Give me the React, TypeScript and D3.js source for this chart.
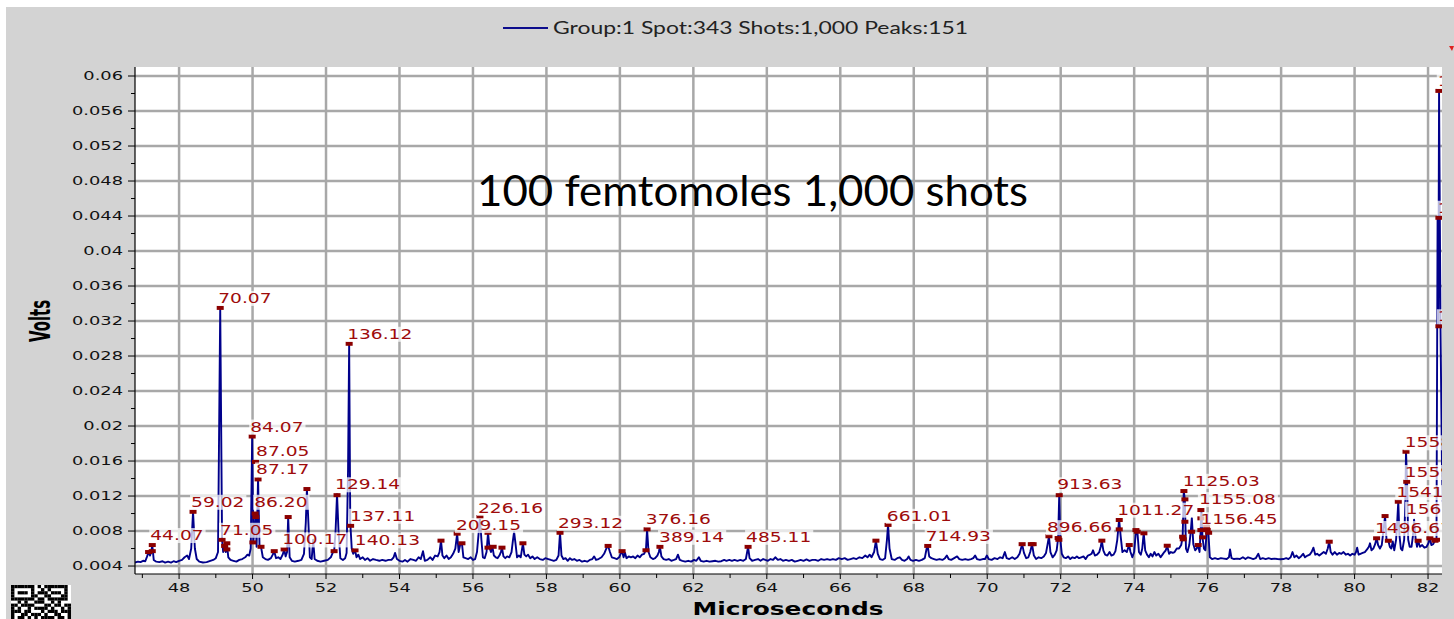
import React from "react";
import * as d3 from "d3";

const W = 1454;
const H = 619;

const legendText = "Group:1 Spot:343 Shots:1,000 Peaks:151";
const titleText = "100 femtomoles 1,000 shots";
const yAxisTitle = "Volts";
const xAxisTitle = "Microseconds";

const xTickValues = [48, 50, 52, 54, 56, 58, 60, 62, 64, 66, 68, 70, 72, 74, 76, 78, 80, 82];
const xMinorTicks = [47, 49, 51, 53, 55, 57, 59, 61, 63, 65, 67, 69, 71, 73, 75, 77, 79, 81];
const yTickValues = [0.004, 0.008, 0.012, 0.016, 0.02, 0.024, 0.028, 0.032, 0.036, 0.04, 0.044, 0.048, 0.052, 0.056, 0.06];
const yTickLabels = ["0.004", "0.008", "0.012", "0.016", "0.02", "0.024", "0.028", "0.032", "0.036", "0.04", "0.044", "0.048", "0.052", "0.056", "0.06"];
const yMinorTicks = [0.006, 0.01, 0.014, 0.018, 0.022, 0.026, 0.03, 0.034, 0.038, 0.042, 0.046, 0.05, 0.054, 0.058];

// spectrum: [microseconds, volts]
const spectrum: [number, number][] = [
  [46.80, .00440], [46.88, .00450], [46.95, .00445], [47.02, .00460], [47.08, .00455], [47.13, .00510], [47.17, .00560], [47.21, .00520], [47.24, .00560], [47.27, .00640], [47.31, .00470], [47.38, .00450], [47.46, .00445], [47.55, .00455], [47.62, .00440], [47.70, .00450], [47.78, .00440], [47.85, .00455], [47.92, .00445], [48.00, .00460], [48.08, .00470], [48.15, .00500], [48.22, .00520], [48.27, .00480], [48.33, .00600], [48.38, .01020], [48.43, .00600], [48.48, .00480], [48.55, .00450], [48.65, .00440], [48.75, .00445], [48.85, .00460], [48.93, .00470], [49.00, .00490], [49.06, .00560], [49.12, .03350], [49.17, .00700], [49.20, .00560], [49.24, .00630], [49.27, .00560], [49.30, .00660], [49.34, .00500], [49.40, .00470], [49.48, .00460], [49.56, .00450], [49.64, .00470], [49.72, .00480], [49.80, .00500], [49.86, .00530], [49.91, .00520], [49.95, .00600], [49.99, .01880], [50.02, .00670], [50.05, .00800], [50.08, .01000], [50.11, .00620], [50.15, .01400], [50.19, .00620], [50.23, .00620], [50.28, .00500], [50.35, .00480], [50.42, .00470], [50.50, .00490], [50.55, .00530], [50.59, .00570], [50.64, .00490], [50.70, .00500], [50.76, .00480], [50.82, .00530], [50.86, .00590], [50.90, .00510], [50.94, .00560], [50.97, .00960], [51.01, .00500], [51.07, .00460], [51.15, .00450], [51.25, .00460], [51.33, .00470], [51.40, .00540], [51.45, .00900], [51.48, .01280], [51.52, .00900], [51.56, .00500], [51.61, .00480], [51.65, .00700], [51.69, .00480], [51.76, .00460], [51.85, .00450], [51.95, .00460], [52.05, .00470], [52.13, .00500], [52.19, .00560], [52.22, .00560], [52.26, .00800], [52.30, .01220], [52.34, .00800], [52.39, .00490], [52.46, .00470], [52.52, .00490], [52.56, .00550], [52.60, .01500], [52.63, .02940], [52.66, .00900], [52.70, .00600], [52.74, .00540], [52.79, .00580], [52.83, .00500], [52.88, .00530], [52.93, .00480], [53.00, .00500], [53.06, .00470], [53.13, .00490], [53.20, .00460], [53.28, .00480], [53.36, .00470], [53.45, .00460], [53.53, .00470], [53.62, .00460], [53.70, .00470], [53.78, .00470], [53.84, .00500], [53.88, .00550], [53.93, .00480], [54.00, .00460], [54.08, .00450], [54.15, .00470], [54.22, .00450], [54.30, .00480], [54.38, .00470], [54.45, .00460], [54.52, .00500], [54.58, .00480], [54.64, .00570], [54.69, .00460], [54.76, .00470], [54.84, .00500], [54.90, .00470], [54.97, .00520], [55.04, .00510], [55.09, .00560], [55.13, .00690], [55.17, .00520], [55.22, .00490], [55.28, .00520], [55.34, .00480], [55.40, .00500], [55.46, .00540], [55.52, .00600], [55.57, .00770], [55.61, .00560], [55.65, .00640], [55.70, .00660], [55.74, .00500], [55.80, .00490], [55.87, .00480], [55.94, .00500], [56.00, .00470], [56.06, .00480], [56.11, .00560], [56.16, .00800], [56.19, .00960], [56.23, .00700], [56.27, .00500], [56.32, .00490], [56.37, .00560], [56.41, .00780], [56.45, .00610], [56.49, .00560], [56.53, .00620], [56.57, .00520], [56.62, .00500], [56.67, .00490], [56.72, .00520], [56.76, .00560], [56.79, .00610], [56.83, .00510], [56.88, .00490], [56.93, .00510], [56.99, .00500], [57.05, .00560], [57.09, .00700], [57.12, .00790], [57.16, .00650], [57.20, .00500], [57.25, .00520], [57.30, .00500], [57.36, .00660], [57.40, .00530], [57.45, .00510], [57.50, .00530], [57.56, .00490], [57.62, .00510], [57.68, .00480], [57.75, .00500], [57.82, .00480], [57.90, .00470], [57.97, .00490], [58.05, .00480], [58.12, .00470], [58.20, .00460], [58.27, .00470], [58.33, .00520], [58.37, .00780], [58.41, .00520], [58.46, .00480], [58.52, .00490], [58.58, .00460], [58.64, .00490], [58.70, .00470], [58.76, .00480], [58.83, .00460], [58.90, .00470], [58.97, .00450], [59.04, .00460], [59.11, .00450], [59.18, .00470], [59.25, .00480], [59.30, .00510], [59.35, .00470], [59.42, .00480], [59.50, .00500], [59.57, .00540], [59.63, .00600], [59.68, .00630], [59.73, .00560], [59.78, .00500], [59.85, .00490], [59.92, .00480], [59.98, .00500], [60.02, .00540], [60.06, .00570], [60.10, .00500], [60.14, .00550], [60.18, .00490], [60.24, .00510], [60.30, .00500], [60.36, .00510], [60.42, .00490], [60.48, .00520], [60.54, .00500], [60.60, .00530], [60.66, .00540], [60.71, .00590], [60.74, .00820], [60.78, .00560], [60.83, .00500], [60.90, .00480], [60.96, .00490], [61.02, .00520], [61.06, .00560], [61.09, .00620], [61.13, .00510], [61.19, .00480], [61.26, .00470], [61.33, .00480], [61.40, .00460], [61.47, .00470], [61.53, .00480], [61.58, .00530], [61.63, .00470], [61.70, .00460], [61.78, .00450], [61.86, .00460], [61.94, .00450], [62.02, .00470], [62.08, .00460], [62.15, .00500], [62.20, .00460], [62.28, .00450], [62.36, .00460], [62.44, .00450], [62.52, .00455], [62.60, .00460], [62.68, .00450], [62.76, .00455], [62.84, .00470], [62.90, .00460], [62.98, .00470], [63.05, .00460], [63.12, .00470], [63.20, .00460], [63.28, .00470], [63.36, .00460], [63.43, .00480], [63.49, .00620], [63.53, .00490], [63.60, .00460], [63.68, .00470], [63.76, .00480], [63.83, .00460], [63.90, .00480], [63.96, .00470], [64.03, .00460], [64.10, .00480], [64.17, .00470], [64.23, .00500], [64.30, .00470], [64.37, .00480], [64.44, .00460], [64.52, .00470], [64.60, .00460], [64.68, .00470], [64.76, .00450], [64.84, .00460], [64.92, .00470], [65.00, .00460], [65.08, .00475], [65.16, .00460], [65.24, .00470], [65.32, .00470], [65.40, .00460], [65.48, .00480], [65.56, .00470], [65.64, .00480], [65.72, .00470], [65.80, .00480], [65.88, .00470], [65.96, .00490], [66.04, .00480], [66.12, .00490], [66.20, .00470], [66.28, .00480], [66.36, .00490], [66.44, .00480], [66.52, .00500], [66.60, .00490], [66.68, .00520], [66.74, .00500], [66.80, .00530], [66.85, .00500], [66.92, .00560], [66.97, .00690], [67.02, .00540], [67.08, .00480], [67.15, .00470], [67.22, .00490], [67.27, .00700], [67.30, .00870], [67.34, .00600], [67.40, .00480], [67.48, .00470], [67.55, .00490], [67.62, .00500], [67.68, .00470], [67.75, .00460], [67.82, .00480], [67.86, .00510], [67.91, .00470], [67.98, .00460], [68.06, .00470], [68.14, .00460], [68.22, .00470], [68.30, .00490], [68.35, .00600], [68.38, .00630], [68.42, .00510], [68.48, .00490], [68.55, .00480], [68.62, .00470], [68.70, .00480], [68.78, .00470], [68.85, .00490], [68.90, .00520], [68.95, .00480], [69.02, .00470], [69.10, .00490], [69.18, .00510], [69.24, .00480], [69.32, .00470], [69.40, .00480], [69.48, .00470], [69.56, .00480], [69.62, .00490], [69.67, .00520], [69.72, .00480], [69.80, .00470], [69.88, .00480], [69.94, .00480], [69.99, .00520], [70.04, .00480], [70.12, .00470], [70.20, .00490], [70.28, .00480], [70.35, .00500], [70.42, .00490], [70.48, .00560], [70.53, .00490], [70.60, .00480], [70.68, .00500], [70.75, .00480], [70.82, .00500], [70.88, .00540], [70.95, .00650], [71.00, .00550], [71.06, .00490], [71.12, .00500], [71.17, .00560], [71.22, .00650], [71.27, .00520], [71.33, .00480], [71.40, .00500], [71.47, .00490], [71.54, .00510], [71.60, .00550], [71.64, .00640], [71.68, .00740], [71.72, .00560], [71.78, .00500], [71.84, .00530], [71.89, .00580], [71.93, .00720], [71.96, .01210], [71.99, .00700], [72.03, .00540], [72.08, .00500], [72.14, .00490], [72.20, .00510], [72.26, .00480], [72.32, .00500], [72.38, .00490], [72.44, .00510], [72.50, .00490], [72.56, .00500], [72.62, .00510], [72.68, .00480], [72.74, .00520], [72.80, .00530], [72.84, .00540], [72.88, .00580], [72.93, .00520], [72.99, .00530], [73.05, .00560], [73.09, .00620], [73.12, .00690], [73.16, .00580], [73.21, .00530], [73.27, .00520], [73.33, .00560], [73.38, .00520], [73.44, .00530], [73.49, .00570], [73.54, .00700], [73.59, .00930], [73.63, .00750], [73.68, .00560], [73.74, .00580], [73.80, .00560], [73.86, .00640], [73.90, .00560], [73.95, .00500], [74.00, .00560], [74.05, .00810], [74.09, .00780], [74.13, .00560], [74.18, .00530], [74.22, .00600], [74.26, .00780], [74.30, .00580], [74.35, .00530], [74.40, .00500], [74.45, .00540], [74.50, .00510], [74.55, .00560], [74.60, .00520], [74.66, .00540], [74.72, .00500], [74.77, .00530], [74.82, .00560], [74.86, .00580], [74.90, .00630], [74.95, .00540], [75.00, .00560], [75.05, .00550], [75.10, .00560], [75.16, .00600], [75.22, .00600], [75.28, .00640], [75.32, .00730], [75.35, .01260], [75.38, .01160], [75.41, .00600], [75.45, .00560], [75.50, .00640], [75.54, .00790], [75.57, .00950], [75.61, .00650], [75.66, .00580], [75.70, .00600], [75.74, .00640], [75.78, .00560], [75.81, .00800], [75.83, .01040], [75.86, .00728], [75.90, .00600], [75.94, .00580], [75.98, .00850], [76.02, .00780], [76.06, .00500], [76.12, .00480], [76.20, .00490], [76.28, .00480], [76.36, .00490], [76.44, .00485], [76.52, .00480], [76.58, .00500], [76.61, .00590], [76.65, .00490], [76.72, .00480], [76.80, .00485], [76.88, .00480], [76.96, .00500], [77.03, .00480], [77.10, .00500], [77.17, .00490], [77.24, .00480], [77.31, .00490], [77.38, .00540], [77.43, .00480], [77.50, .00490], [77.58, .00480], [77.66, .00490], [77.74, .00480], [77.82, .00485], [77.90, .00480], [77.98, .00478], [78.06, .00480], [78.14, .00490], [78.20, .00480], [78.26, .00500], [78.31, .00560], [78.36, .00500], [78.42, .00520], [78.48, .00490], [78.54, .00510], [78.60, .00540], [78.65, .00500], [78.72, .00520], [78.78, .00530], [78.83, .00560], [78.88, .00610], [78.93, .00530], [78.98, .00540], [79.04, .00520], [79.10, .00540], [79.16, .00560], [79.22, .00540], [79.27, .00600], [79.31, .00680], [79.35, .00560], [79.40, .00530], [79.46, .00560], [79.52, .00530], [79.58, .00550], [79.64, .00540], [79.70, .00560], [79.76, .00530], [79.82, .00540], [79.88, .00520], [79.94, .00540], [80.00, .00530], [80.04, .00560], [80.07, .00610], [80.11, .00530], [80.16, .00540], [80.22, .00550], [80.28, .00560], [80.34, .00590], [80.39, .00620], [80.42, .00660], [80.46, .00580], [80.51, .00600], [80.56, .00650], [80.60, .00720], [80.64, .00640], [80.69, .00600], [80.74, .00640], [80.79, .00820], [80.83, .00970], [80.87, .00700], [80.92, .00690], [80.96, .00620], [81.00, .00600], [81.04, .00680], [81.08, .00580], [81.13, .00700], [81.16, .00900], [81.19, .01140], [81.22, .00760], [81.26, .00600], [81.30, .00580], [81.35, .00700], [81.38, .01100], [81.40, .01710], [81.43, .01360], [81.46, .00700], [81.50, .00620], [81.55, .00620], [81.59, .00750], [81.62, .00930], [81.66, .00720], [81.70, .00620], [81.73, .00690], [81.78, .00620], [81.84, .00640], [81.90, .00610], [81.96, .00620], [82.01, .00660], [82.05, .00720], [82.09, .00640], [82.14, .00650], [82.19, .00690], [82.23, .00700], [82.26, .04380], [82.28, .03140], [82.30, .05830], [82.34, .03100], [82.38, .01500], [82.42, .00800],
];

// peak markers: [microseconds, volts]
const peakMarkers: [number, number][] = [
  [47.17, .0056], [47.27, .0057], [47.27, .0064], [48.38, .0102], [49.12, .0335],
  [49.17, .0070], [49.30, .0066], [49.24, .0063], [49.30, .0059],
  [49.99, .0188], [50.08, .0159], [50.15, .0139], [50.07, .0100], [50.09, .0096],
  [50.01, .0067], [50.23, .0062], [50.59, .0057], [50.86, .0059], [50.97, .0096],
  [51.48, .0128], [52.22, .0057], [52.30, .0121], [52.63, .0294], [52.67, .0086], [52.79, .0058],
  [55.13, .0069], [55.57, .0077], [55.70, .0066], [56.19, .0096], [56.41, .0078],
  [56.41, .0061], [56.55, .0062], [56.79, .0061], [57.36, .0066], [58.37, .0078],
  [59.68, .0063], [60.06, .0057], [60.71, .0058], [60.74, .0082], [61.09, .0062], [63.49, .0062],
  [66.97, .0069], [67.30, .0087], [68.38, .0063], [70.95, .0065], [71.20, .0065], [71.25, .0065],
  [71.68, .0074], [71.96, .0121], [71.93, .0072], [71.95, .0070], [73.12, .0069],
  [73.594, .00926], [73.594, .00819], [73.866, .0064], [74.048, .00811], [74.083, .00792],
  [74.265, .00774], [74.900, .00632], [75.354, .01257], [75.381, .01162], [75.381, .00906],
  [75.319, .00735], [75.335, .00705], [75.564, .00792], [75.743, .0064], [75.816, .0104],
  [75.816, .00945], [75.816, .00811], [75.863, .00728], [75.972, .00849], [75.989, .00811], [76.027, .0078],
  [79.31, .00678], [80.60, .00717], [80.83, .00971], [80.92, .00689], [81.19, .01135],
  [81.40, .01706], [81.42, .01363], [81.73, .00689], [82.05, .00717], [82.19, .00689], [82.23, .00700],
  [82.295, .0583], [82.295, .0438], [82.295, .0314],
];

// peak labels: text and the peak (microseconds, volts) they annotate
const labelTexts = [
  "44.07", "59.02", "70.07", "71.05", "84.07", "87.05", "87.17", "86.20", "100.17",
  "129.14", "136.12", "137.11", "140.13", "209.15", "226.16", "293.12", "376.16", "389.14",
  "485.11", "661.01", "714.93", "896.66", "913.63", "1011.27", "1125.03", "1155.08", "1156.45",
  "1496.67", "1541.53", "1558.72", "1559.40", "1566.91", "1577.58", "1578.10", "1578.95",
];
const labelTimes = [
  47.27, 48.38, 49.12, 49.17, 49.99, 50.15, 50.15, 50.10, 50.86,
  52.30, 52.63, 52.71, 52.84, 55.59, 56.19, 58.37, 60.76, 61.12,
  63.49, 67.32, 68.38, 71.68, 71.96, 73.594, 75.38, 75.816, 75.86,
  80.61, 81.19, 81.42, 81.42, 81.45, 82.32, 82.32, 82.32,
];
const labelVolts = [
  .0064, .0102, .0335, .0070, .0188, .0160, .0139, .0102, .0059,
  .0122, .0294, .0086, .0058, .00754, .0095, .0078, .0082, .0062,
  .0062, .0086, .0063, .0073, .0122, .0093, .0126, .0105, .0082,
  .0072, .0113, .0170, .0136, .0094, .0583, .0438, .0314,
];

const qrPattern = [
  "111111101011111110",
  "100000100101000010",
  "101110101110111010",
  "100000110011000110",
  "111111101101111110",
  "001010011100101000",
  "110111100011011011",
  "101001011110100101",
  "111011000101110111",
  "100110111010011001",
  "101101010111101101",
];

const x = d3.scaleLinear().domain([46.8, 82.38]).range([135, 1442]);
const y = d3.scaleLinear().domain([0.00309, 0.06103]).range([574, 67]);

const LABEL_FS = 13.7;
const LABEL_SX = 1.36;
const TICK_FS = 11.5;
const TICK_SX = 1.55;

function textEm(s: string) {
  let w = 0;
  for (const c of s) w += c === "." ? 0.318 : 0.636;
  return w;
}

export default function App() {
  const line = d3
    .line<[number, number]>()
    .x((d) => x(d[0]))
    .y((d) => y(d[1]));

  const plotL = 135, plotR = 1442, plotT = 67, plotB = 574;

  return (
    <svg
      width={W}
      height={H}
      style={{ position: "absolute", left: 0, top: 0, display: "block" }}
      fontFamily="'DejaVu Sans', Verdana, sans-serif"
    >
      <defs>
        <clipPath id="plotClip">
          <rect x={plotL} y={plotT} width={plotR - plotL} height={plotB - plotT} />
        </clipPath>
      </defs>
      <rect x={0} y={0} width={W} height={H} fill="#ffffff" />
      <rect x={6} y={7} width={W - 6} height={H - 7} fill="#d3d3d3" />
      <rect x={plotL} y={plotT} width={plotR - plotL} height={plotB - plotT} fill="#ffffff" />

      {/* legend */}
      <line x1={503} x2={548} y1={28} y2={28} stroke="#0c0c8c" strokeWidth={2} />
      <text x={553} y={34} fontFamily="Lato, 'Open Sans', sans-serif" fontSize={16.5} fill="#222" textLength={415} lengthAdjust="spacingAndGlyphs">
        {legendText}
      </text>

      {/* grid */}
      <g stroke="#a8a8a8" strokeWidth={2.5}>
        {yTickValues.map((v) => (
          <line key={"gy" + v} x1={plotL} x2={plotR} y1={y(v)} y2={y(v)} />
        ))}
        {xTickValues.map((t) => (
          <line key={"gx" + t} x1={x(t)} x2={x(t)} y1={plotT} y2={plotB} />
        ))}
      </g>

      {/* title annotation */}
      <text x={477} y={206} fontFamily="Lato, 'Open Sans', sans-serif" fontSize={43} fill="#000" textLength={551} lengthAdjust="spacingAndGlyphs">
        {titleText}
      </text>

      <g clipPath="url(#plotClip)">
        <path d={line(spectrum) || ""} fill="none" stroke="#00008b" strokeWidth={1.9} strokeLinejoin="round" />
        {peakMarkers.map((m, i) => (
          <rect key={"m" + i} x={x(m[0]) - 3.5} y={y(m[1]) - 2} width={7} height={4} fill="#8b0000" />
        ))}
        {labelTexts.map((s, i) => {
          const px = x(labelTimes[i]) - 2;
          const py = y(labelVolts[i]) - 5;
          const w = textEm(s) * LABEL_FS * LABEL_SX;
          return (
            <g key={"l" + i}>
              <rect x={px - 1} y={py - 12} width={w + 3} height={15} fill="#ffffff" fillOpacity={0.72} />
              <text
                transform={`translate(${px},${py}) scale(${LABEL_SX},1)`}
                fontSize={LABEL_FS}
                fill="#9e0b0b"
              >
                {s}
              </text>
            </g>
          );
        })}
      </g>

      {/* axes */}
      <line x1={plotL} x2={plotL} y1={plotT} y2={plotB} stroke="#000" strokeWidth={1.2} />
      <line x1={plotL} x2={plotR} y1={plotB} y2={plotB} stroke="#000" strokeWidth={1.2} />
      <g stroke="#000" strokeWidth={1}>
        {yTickValues.map((v) => (
          <line key={"ty" + v} x1={plotL - 7} x2={plotL} y1={y(v)} y2={y(v)} />
        ))}
        {yMinorTicks.map((v) => (
          <line key={"tym" + v} x1={plotL - 4} x2={plotL} y1={y(v)} y2={y(v)} />
        ))}
        {xTickValues.map((t) => (
          <line key={"tx" + t} x1={x(t)} x2={x(t)} y1={plotB} y2={plotB + 5} />
        ))}
        {xMinorTicks.map((t) => (
          <line key={"txm" + t} x1={x(t)} x2={x(t)} y1={plotB} y2={plotB + 4} />
        ))}
      </g>
      {yTickValues.map((v, i) => (
        <text
          key={"yl" + v}
          transform={`translate(123,${y(v) + 4.2}) scale(${TICK_SX},1)`}
          textAnchor="end"
          fontSize={TICK_FS}
          fill="#111"
        >
          {yTickLabels[i]}
        </text>
      ))}
      {xTickValues.map((t) => (
        <text
          key={"xl" + t}
          transform={`translate(${x(t)},592) scale(${TICK_SX},1)`}
          textAnchor="middle"
          fontSize={TICK_FS}
          fill="#111"
        >
          {String(t)}
        </text>
      ))}

      {/* axis titles */}
      <text
        transform={`translate(50,321) scale(1.55,1) rotate(-90)`}
        textAnchor="middle"
        fontSize={18}
        fontWeight="bold"
        fill="#000"
        textLength={42}
        lengthAdjust="spacingAndGlyphs"
      >
        {yAxisTitle}
      </text>
      <text
        x={788}
        y={615}
        textAnchor="middle"
        fontSize={17}
        fontWeight="bold"
        fill="#000"
        textLength={191}
        lengthAdjust="spacingAndGlyphs"
      >
        {xAxisTitle}
      </text>

      {/* small marker at top right */}
      <path d="M1449,46 L1454,46 L1452,51 Z" fill="#e02020" />

      {/* corner icon */}
      <g>
        <rect x={11} y={585} width={60} height={34} fill="#ffffff" />
        {qrPattern.map((row, r) =>
          row.split("").map((c, k) =>
            c === "1" ? (
              <rect key={`q${r}-${k}`} x={11 + k * 3.33} y={585 + r * 3.1} width={3.4} height={3.2} fill="#000" />
            ) : null
          )
        )}
      </g>
    </svg>
  );
}
